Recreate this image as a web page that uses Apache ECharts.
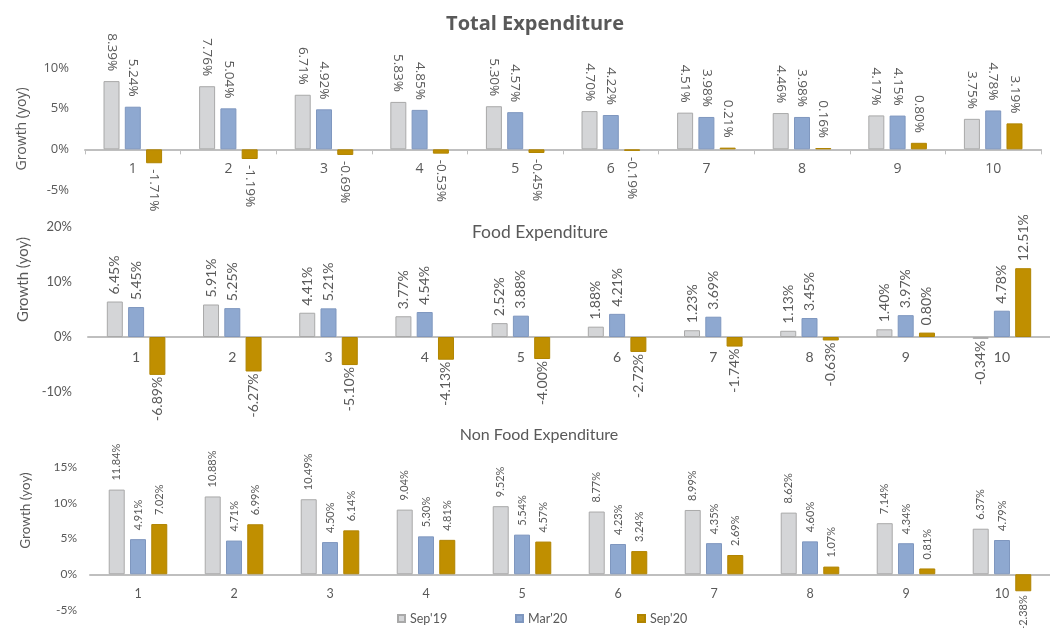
<!DOCTYPE html>
<html><head><meta charset="utf-8">
<script src="https://cdn.jsdelivr.net/npm/echarts@6/dist/echarts.min.js"></script>
<style>html,body{margin:0;padding:0;background:#fff}#c{width:1050px;height:628px}</style>
</head><body><div id="c"></div>
<script>
// ---------- data ----------
const categories = ['1','2','3','4','5','6','7','8','9','10'];
const seriesNames = ["Sep'19", "Mar'20", "Sep'20"];

const totalSep19 = [8.39, 7.76, 6.71, 5.83, 5.30, 4.70, 4.51, 4.46, 4.17, 3.75];
const totalMar20 = [5.24, 5.04, 4.92, 4.85, 4.57, 4.22, 3.98, 3.98, 4.15, 4.78];
const totalSep20 = [-1.71, -1.19, -0.69, -0.53, -0.45, -0.19, 0.21, 0.16, 0.80, 3.19];

const foodSep19 = [6.45, 5.91, 4.41, 3.77, 2.52, 1.88, 1.23, 1.13, 1.40, -0.34];
const foodMar20 = [5.45, 5.25, 5.21, 4.54, 3.88, 4.21, 3.69, 3.45, 3.97, 4.78];
const foodSep20 = [-6.89, -6.27, -5.10, -4.13, -4.00, -2.72, -1.74, -0.63, 0.80, 12.51];

const nonFoodSep19 = [11.84, 10.88, 10.49, 9.04, 9.52, 8.77, 8.99, 8.62, 7.14, 6.37];
const nonFoodMar20 = [4.91, 4.71, 4.50, 5.30, 5.54, 4.23, 4.35, 4.60, 4.34, 4.79];
const nonFoodSep20 = [7.02, 6.99, 6.14, 4.81, 4.57, 3.24, 2.69, 1.07, 0.81, -2.38];

const totalTicks = [-5, 0, 5, 10];
const foodTicks = [-10, 0, 10, 20];
const nonFoodTicks = [-5, 0, 5, 10, 15];

const titles = ['Total Expenditure', 'Food Expenditure', 'Non Food Expenditure'];
const yAxisName = 'Growth (yoy)';

// ---------- styles ----------
const TXT = '#595959';
const colors = ['#D4D5D7', '#8EA8D0', '#C08F00'];
const borders = ['#A9A9A9', '#7F97BF', '#B08400'];

const panels = [
  { title: titles[0], values: [totalSep19, totalMar20, totalSep20], ticks: totalTicks,
    font: 'Open Sans', titleSize: 20, titleWeight: 'bold', titleX: 535, titleTop: 14,
    grid: { left: 85, right: 9, top: 68, height: 122 },
    labelSize: 13.5, rot: -90, distPos: 10, distNeg: 6, axisSize: 14, ySize: 13, yMargin: 16,
    nameSize: 14, nameGap: 56, namePad: 0, ticksShow: true },
  { title: titles[1], values: [foodSep19, foodMar20, foodSep20], ticks: foodTicks,
    font: 'Lato', titleSize: 17.5, titleWeight: 'normal', titleX: 540, titleTop: 223,
    grid: { left: 88, right: -9, top: 227, height: 165 },
    labelSize: 14, rot: 90, distPos: 7, distNeg: 2, axisSize: 14, ySize: 13, yMargin: 16,
    nameSize: 15, nameGap: 51, namePad: 60, ticksShow: false },
  { title: titles[2], values: [nonFoodSep19, nonFoodMar20, nonFoodSep20], ticks: nonFoodTicks,
    font: 'Lato', titleSize: 16, titleWeight: 'normal', titleX: 539, titleTop: 427,
    grid: { left: 90, right: -2, top: 467, height: 143 },
    labelSize: 11, rot: 90, distPos: 9, distNeg: 4, axisSize: 12.5, ySize: 12, yMargin: 13,
    nameSize: 13.5, nameGap: 57, namePad: 56, ticksShow: false }
];

const option = {
  animation: false,
  backgroundColor: '#ffffff',
  title: [], grid: [], xAxis: [], yAxis: [], series: [],
  legend: seriesNames.map((n, i) => ({
    data: [n], left: [397, 515, 637][i], top: 612, itemWidth: 7, itemHeight: 7, itemGap: 4,
    padding: 0, icon: 'rect', textStyle: { color: TXT, fontSize: 12.5, fontFamily: 'Lato' }
  }))
};

panels.forEach((p, pi) => {
  const tMin = p.ticks[0], tMax = p.ticks[p.ticks.length - 1];
  option.title.push({
    text: p.title, left: p.titleX, top: p.titleTop, textAlign: 'center', padding: 0,
    textStyle: { color: TXT, fontSize: p.titleSize, fontWeight: p.titleWeight, fontFamily: p.font }
  });
  option.grid.push(p.grid);
  option.xAxis.push({
    type: 'category', gridIndex: pi, data: categories, position: 'bottom',
    // place the category axis on the zero line of the value axis
    offset: -((0 - tMin) / (tMax - tMin)) * p.grid.height,
    axisLine: { onZero: false, lineStyle: { color: '#BFBFBF', width: 2 } },
    axisTick: { show: p.ticksShow, length: 5, lineStyle: { color: '#BFBFBF', width: 1 } },
    axisLabel: { color: TXT, fontSize: p.axisSize, fontFamily: p.font, margin: 13 }
  });
  option.yAxis.push({
    type: 'value', gridIndex: pi,
    min: tMin, max: tMax, interval: p.ticks[1] - p.ticks[0],
    splitLine: { show: false }, axisLine: { show: false }, axisTick: { show: false },
    axisLabel: { color: TXT, fontSize: p.ySize, fontFamily: p.font, formatter: '{value}%', margin: p.yMargin },
    name: yAxisName, nameLocation: 'middle', nameGap: p.nameGap,
    nameTextStyle: { color: TXT, fontSize: p.nameSize, fontFamily: p.font, padding: [0, 0, 0, p.namePad] }
  });
  p.values.forEach((vals, si) => {
    const cw = p.rot < 0; // clockwise text (reads top-down)
    const posLabel = { position: 'top', align: cw ? 'right' : 'left', distance: p.distPos };
    const negLabel = { position: 'bottom', align: cw ? 'left' : 'right', distance: p.distNeg };
    option.series.push({
      type: 'bar', name: seriesNames[si], xAxisIndex: pi, yAxisIndex: pi,
      barWidth: 16, barGap: '33%',
      itemStyle: { color: colors[si], borderColor: borders[si], borderWidth: 1 },
      label: {
        show: true, rotate: p.rot, verticalAlign: 'middle',
        color: TXT, fontSize: p.labelSize, fontFamily: p.font,
        formatter: (d) => d.value.toFixed(2) + '%'
      },
      data: vals.map(v => ({ value: v, label: v >= 0 ? posLabel : negLabel }))
    });
  });
});

const chart = echarts.init(document.getElementById('c'), null, { renderer: 'canvas' });
chart.setOption(option);
</script>
</body></html>
